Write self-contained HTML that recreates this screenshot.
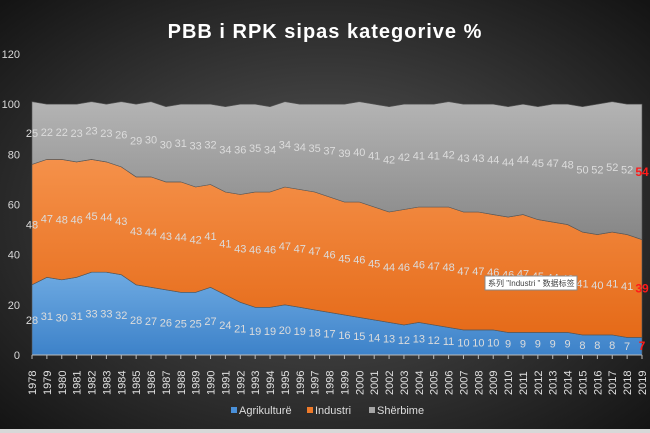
<!DOCTYPE html>
<html><head><meta charset="utf-8"><style>
html,body{margin:0;padding:0;width:650px;height:433px;overflow:hidden;background:#222}
svg{display:block}
text{font-family:"Liberation Sans","Noto Sans CJK SC",sans-serif}
</style></head><body>
<svg id="s" width="650" height="433" xmlns="http://www.w3.org/2000/svg">
<defs>
<radialGradient id="bg" cx="50%" cy="50%" r="70%">
<stop offset="0" stop-color="#5a5a5a"/><stop offset="1" stop-color="#141414"/>
</radialGradient>
<linearGradient id="gb" x1="0" y1="0" x2="0" y2="1"><stop offset="0" stop-color="#6eaae2"/><stop offset="1" stop-color="#3d82c9"/></linearGradient>
<linearGradient id="go" x1="0" y1="0" x2="0" y2="1"><stop offset="0" stop-color="#f5914a"/><stop offset="1" stop-color="#e56a18"/></linearGradient>
<linearGradient id="gg" x1="0" y1="0" x2="0" y2="1"><stop offset="0" stop-color="#b4b4b4"/><stop offset="1" stop-color="#868686"/></linearGradient>
</defs>
<rect width="650" height="433" fill="url(#bg)"/>
<rect x="0" y="429" width="650" height="4" fill="#d8d8d8"/>
<text x="325" y="38" fill="#fff" font-size="20" font-weight="bold" text-anchor="middle" letter-spacing="1">PBB i RPK sipas kategorive %</text>
<g id="g"></g>
</svg>
<script>
var A=[28,31,30,31,33,33,32,28,27,26,25,25,27,24,21,19,19,20,19,18,17,16,15,14,13,12,13,12,11,10,10,10,9,9,9,9,9,8,8,8,7,7];
var I=[48,47,48,46,45,44,43,43,44,43,44,42,41,41,43,46,46,47,47,47,46,45,46,45,44,46,46,47,48,47,47,46,46,47,45,44,43,41,40,41,41,39];
var S=[25,22,22,23,23,23,26,29,30,30,31,33,32,34,36,35,34,34,34,35,37,39,40,41,42,42,41,41,42,43,43,44,44,44,45,47,48,50,52,52,52,54];
var x0=32,dx=610/41,y0=355,k=2.508,h='';
function X(i){return x0+i*dx}function Y(v){return y0-v*k}
function area(lo,hi,fill){var p='M';for(var i=0;i<42;i++)p+=X(i).toFixed(1)+','+Y(hi[i]).toFixed(1)+' L';for(var i=41;i>=0;i--)p+=X(i).toFixed(1)+','+Y(lo[i]).toFixed(1)+(i?' L':' Z');return '<path d="'+p+'" fill="'+fill+'" stroke="#555" stroke-width="0.6"/>'}
var z=[],c1=[],c2=[];for(var i=0;i<42;i++){z.push(0);c1.push(A[i]);c2.push(A[i]+I[i])}
var c3=[];for(var i=0;i<42;i++)c3.push(c2[i]+S[i]);
h+=area(z,c1,'url(#gb)')+area(c1,c2,'url(#go)')+area(c2,c3,'url(#gg)');
for(var v=0;v<=120;v+=20)h+='<text x="20" y="'+(Y(v)+4)+'" fill="#d9d9d9" font-size="11" text-anchor="end">'+v+'</text>';
h+='<line x1="'+x0+'" y1="'+y0+'" x2="642" y2="'+y0+'" stroke="#bbb" stroke-width="1"/>';
for(var i=0;i<42;i++){var x=X(i);h+='<line x1="'+x+'" y1="355" x2="'+x+'" y2="359" stroke="#bbb"/>';
h+='<text transform="translate('+(x+4)+',395) rotate(-90)" fill="#e0e0e0" font-size="11">'+(1978+i)+'</text>';
var last=i==41,col=last?'#ff1a1a':'#dcdcdc',fw=last?'bold':'normal',fs=last?12:11;
[[A[i]/2,A[i]],[A[i]+I[i]/2,I[i]],[c2[i]+S[i]/2,S[i]]].forEach(function(q){h+='<text x="'+x+'" y="'+(Y(q[0])+4)+'" fill="'+col+'" font-weight="'+fw+'" font-size="'+fs+'" text-anchor="middle">'+q[1]+'</text>'});}
h+='<rect x="485" y="276" width="92" height="14" fill="#fff" stroke="#888"/><text x="488" y="286" font-size="8" fill="#444">系列 "Industri " 数据标签</text>';
h+='<rect x="231" y="407" width="6" height="6" fill="#4a90d9"/><text x="239" y="414" fill="#ddd" font-size="11">Agrikulturë</text>';
h+='<rect x="307" y="407" width="6" height="6" fill="#ee7a2a"/><text x="315" y="414" fill="#ddd" font-size="11">Industri</text>';
h+='<rect x="369" y="407" width="6" height="6" fill="#a5a5a5"/><text x="377" y="414" fill="#ddd" font-size="11">Shërbime</text>';
document.getElementById('g').innerHTML=h;
</script>
</body></html>
